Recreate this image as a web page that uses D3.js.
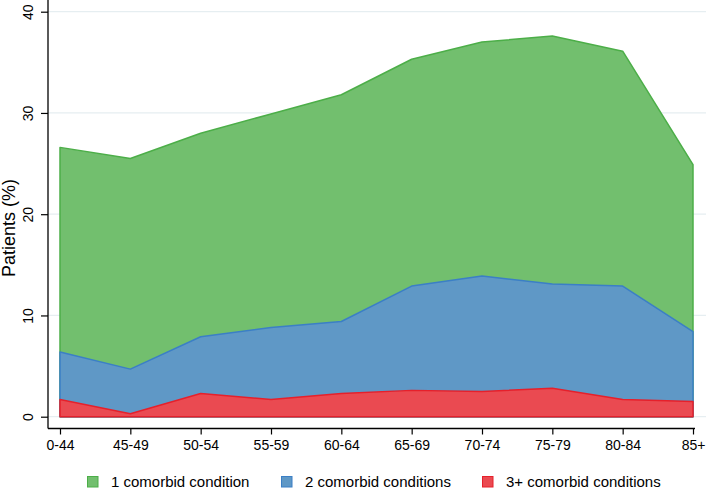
<!DOCTYPE html>
<html><head><meta charset="utf-8">
<script src="https://cdn.jsdelivr.net/npm/d3@7"></script>
<style>
html,body{margin:0;padding:0;background:#fff;}
svg{display:block;font-family:"Liberation Sans",Arial,Helvetica,sans-serif;}
</style></head>
<body><svg id="c" width="706" height="489"></svg>
<script>
const categories = ["0-44","45-49","50-54","55-59","60-64","65-69","70-74","75-79","80-84","85+"];
const seriesNames = ["1 comorbid condition","2 comorbid conditions","3+ comorbid conditions"];
const oneCond   = [20.2, 20.8, 20.1, 21.1, 22.4, 22.4, 23.1, 24.5, 23.2, 16.5];
const twoCond   = [4.7, 4.4, 5.6, 7.1, 7.1, 10.3, 11.4, 10.3, 11.2, 6.9];
const threeCond = [1.7, 0.3, 2.3, 1.7, 2.3, 2.6, 2.5, 2.8, 1.7, 1.5];
const yTicks = [0, 10, 20, 30, 40];

const fills   = ["#72bf6e", "#5f98c6", "#ea4a51"];
const strokes = ["#4cae48", "#3b7fc6", "#e6202b"];

const svg = d3.select("#c");
const x = d3.scalePoint().domain(categories).range([60, 693]);
const y = d3.scaleLinear().domain([0, 40]).range([416.7, 11.7]);

// gridlines
svg.append("g").selectAll("line").data(yTicks).join("line")
  .attr("x1", 48).attr("x2", 706)
  .attr("y1", d => y(d)).attr("y2", d => y(d))
  .attr("stroke", "#e6eef1").attr("stroke-width", 1.2);

// stacked data
const rows = categories.map((c, i) => ({cat: c, three: threeCond[i], two: twoCond[i], one: oneCond[i]}));
const stack = d3.stack().keys(["three", "two", "one"]);
const layers = stack(rows);
const area = d3.area()
  .x(d => x(d.data.cat))
  .y0(y(0))
  .y1(d => y(d[1]));

[2, 1, 0].forEach(li => {
  const colorIdx = 2 - li;
  svg.append("path").datum(layers[li])
    .attr("d", area)
    .attr("fill", fills[colorIdx])
    .attr("stroke", strokes[colorIdx])
    .attr("stroke-width", 1.5)
    .attr("stroke-linejoin", "round");
});

// y axis
const yAxis = d3.axisLeft(y).tickValues(yTicks).tickSize(7).tickPadding(0).tickFormat(d3.format("d"));
const gy = svg.append("g").attr("transform", "translate(48,0)").call(yAxis);
gy.select(".domain").attr("d", "M0,0V428.5").attr("stroke", "#000").attr("stroke-width", 1.3);
gy.selectAll(".tick line").attr("stroke", "#000").attr("stroke-width", 1.2);
gy.selectAll(".tick text")
  .attr("transform", "translate(-15.5,0) rotate(-90)")
  .attr("x", 0).attr("y", 0).attr("dy", 0)
  .attr("text-anchor", "middle")
  .attr("font-size", 14).attr("fill", "#000")
  .attr("font-family", "Liberation Sans, Arial, sans-serif");

// x axis
const xAxis = d3.axisBottom(x).tickSize(6).tickPadding(6);
const gx = svg.append("g").attr("transform", "translate(0,428.5)").call(xAxis);
gx.select(".domain").attr("d", "M48,0H695").attr("stroke", "#000").attr("stroke-width", 1.3);
gx.selectAll(".tick line").attr("stroke", "#000").attr("stroke-width", 1.2);
gx.selectAll(".tick text").attr("font-size", 14).attr("fill", "#000")
  .attr("font-family", "Liberation Sans, Arial, sans-serif");

// y label
svg.append("text")
  .attr("transform", "translate(14.5,228) rotate(-90)")
  .attr("text-anchor", "middle")
  .attr("font-size", 18)
  .attr("fill", "#000")
  .text("Patients (%)");

// legend
const legX = [87, 281, 482];
const lg = svg.append("g");
seriesNames.forEach((n, i) => {
  lg.append("rect").attr("x", legX[i] + 0.5).attr("y", 476.5).attr("width", 10.5).attr("height", 10.5)
    .attr("fill", fills[i]).attr("stroke", strokes[i]).attr("stroke-width", 1);
  lg.append("text").attr("x", legX[i] + 24).attr("y", 486.5)
    .attr("font-size", 15).attr("fill", "#000").text(n);
});
</script></body></html>
